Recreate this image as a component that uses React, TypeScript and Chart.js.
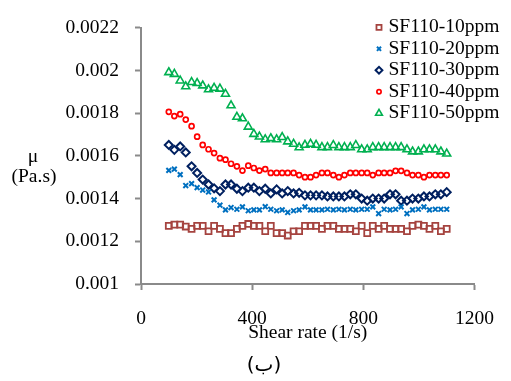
import React, { useEffect, useRef } from 'react';
import { Chart, registerables } from 'chart.js';
import { drawPoint } from 'chart.js/helpers';

Chart.register(...registerables);

// Shear rate (1/s) of each measurement
const shearRate = [
  100, 120, 141, 161, 182, 202, 222, 243, 263, 284,
  304, 324, 345, 365, 386, 406, 426, 447, 467, 488,
  508, 528, 549, 569, 590, 610, 630, 651, 671, 692,
  712, 732, 753, 773, 794, 814, 834, 855, 875, 896,
  916, 936, 957, 977, 998, 1018, 1038, 1059, 1079, 1100,
];

// Viscosity μ (Pa.s) for each SF110 concentration
const sf10 = [
  0.001272, 0.001278, 0.001278, 0.001269, 0.001258, 0.001272, 0.001272, 0.001247, 0.001272, 0.001258,
  0.001238, 0.001238, 0.001258, 0.001272, 0.001281, 0.001272, 0.001272, 0.001247, 0.001272, 0.001238,
  0.001238, 0.001227, 0.001247, 0.001247, 0.001272, 0.001272, 0.001272, 0.001258, 0.001272, 0.001272,
  0.001258, 0.001258, 0.001258, 0.001247, 0.001272, 0.001238, 0.001272, 0.001258, 0.001272, 0.001258,
  0.001258, 0.001258, 0.001247, 0.001272, 0.001278, 0.001272, 0.001258, 0.001272, 0.001247, 0.001258,
];
const sf20 = [
  0.001532, 0.001538, 0.001512, 0.001461, 0.00147, 0.001451, 0.00144, 0.001431, 0.001394, 0.001369,
  0.001347, 0.001358, 0.00135, 0.001361, 0.001343, 0.001347, 0.001347, 0.001362, 0.00135, 0.001343,
  0.001347, 0.001335, 0.001343, 0.001347, 0.001361, 0.001347, 0.001347, 0.001347, 0.00135, 0.001347,
  0.00135, 0.001347, 0.00135, 0.001347, 0.00135, 0.00135, 0.001361, 0.00133, 0.00135, 0.001347,
  0.00135, 0.001361, 0.00133, 0.001347, 0.00135, 0.001361, 0.001347, 0.00135, 0.00135, 0.00135,
];
const sf30 = [
  0.001651, 0.001628, 0.001644, 0.001616, 0.001551, 0.00152, 0.001489, 0.001466, 0.001448, 0.001435,
  0.001466, 0.001466, 0.001446, 0.001435, 0.001451, 0.001451, 0.001435, 0.001446, 0.001424, 0.001443,
  0.001424, 0.001435, 0.001424, 0.001427, 0.001415, 0.001415, 0.001415, 0.001415, 0.00141, 0.00141,
  0.00141, 0.00141, 0.00142, 0.00142, 0.0014, 0.00139, 0.0014, 0.0014, 0.0014, 0.00142,
  0.00142, 0.00139, 0.00139, 0.0014, 0.0014, 0.00141, 0.00141, 0.00142, 0.00142, 0.00143,
];
const sf40 = [
  0.001806, 0.001786, 0.001795, 0.00177, 0.001739, 0.00169, 0.001651, 0.001631, 0.001613, 0.001589,
  0.001582, 0.001563, 0.001551, 0.001531, 0.001554, 0.001543, 0.001531, 0.001538, 0.00152, 0.00152,
  0.00152, 0.00152, 0.00152, 0.00151, 0.0015, 0.0015, 0.00151, 0.00152, 0.00152, 0.00151,
  0.0015, 0.00151, 0.00152, 0.00152, 0.00152, 0.00152, 0.00151, 0.00152, 0.00152, 0.00152,
  0.00153, 0.00153, 0.00152, 0.00151, 0.00151, 0.0015, 0.00151, 0.00151, 0.00151, 0.00151,
];
const sf50 = [
  0.001991, 0.001983, 0.001952, 0.001925, 0.001945, 0.00194, 0.001929, 0.001911, 0.001918, 0.001914,
  0.00189, 0.001836, 0.001782, 0.001775, 0.001736, 0.001702, 0.00169, 0.001677, 0.001682, 0.001677,
  0.001687, 0.001667, 0.001656, 0.001639, 0.001651, 0.001656, 0.001651, 0.00164, 0.00164, 0.00165,
  0.00164, 0.00164, 0.00164, 0.00165, 0.00163, 0.00163, 0.00164, 0.00164, 0.00164, 0.00164,
  0.00164, 0.00164, 0.00163, 0.00162, 0.00162, 0.00163, 0.00163, 0.00163, 0.00162, 0.00161,
];

const seriesLabels = ['SF110-10ppm', 'SF110-20ppm', 'SF110-30ppm', 'SF110-40ppm', 'SF110-50ppm'];
const xTickLabels = ['0', '400', '800', '1200'];
const yTickLabels = ['0.001', '0.0012', '0.0014', '0.0016', '0.0018', '0.002', '0.0022'];

const SERIF = '"Liberation Serif", "Times New Roman", serif';
const FONT_SIZE = 19.5;
const AXIS_GRAY = '#8a8a8a';

type Marker = { style: string; color: string; radius: number; width: number };

const markers: Marker[] = [
  { style: 'rect', color: '#a5433f', radius: 4.2, width: 1.8 },
  { style: 'crossRot', color: '#0070c0', radius: 3.4, width: 2 },
  { style: 'rectRot', color: '#002060', radius: 4, width: 2 },
  { style: 'circle', color: '#ff0000', radius: 2.5, width: 1.7 },
  { style: 'triangle', color: '#00b050', radius: 4.6, width: 1.6 },
];

const seriesValues = [sf10, sf20, sf30, sf40, sf50];

// Legend, axis titles and caption drawn on top of the plot
const annotations = {
  id: 'annotations',
  afterDraw(chart: any) {
    const { ctx, chartArea } = chart;
    ctx.save();
    ctx.fillStyle = '#000';
    ctx.font = `${FONT_SIZE}px ${SERIF}`;
    ctx.textBaseline = 'middle';

    // legend
    seriesLabels.forEach((label, i) => {
      const y = 27.3 + i * 21.5;
      const m = markers[i];
      ctx.save();
      ctx.strokeStyle = m.color;
      ctx.fillStyle = 'rgba(0,0,0,0)';
      ctx.lineWidth = m.width;
      drawPoint(ctx, { pointStyle: m.style, radius: m.radius * 0.85, borderWidth: m.width, rotation: 0 } as any, 379, y);
      ctx.restore();
      ctx.textAlign = 'left';
      ctx.fillText(label, 388.5, y);
    });

    // x-axis title
    ctx.textAlign = 'center';
    ctx.fillText('Shear rate (1/s)', (chartArea.left + chartArea.right) / 2, 333);

    // y-axis title
    ctx.fillText('μ', 33, 157);
    ctx.fillText('(Pa.s)', 34, 177);

    // caption
    ctx.font = '20px "DejaVu Sans", sans-serif';
    ctx.fillText('(ب)', 264, 366);
    ctx.restore();
  },
};

export default function App() {
  const canvasRef = useRef<HTMLCanvasElement | null>(null);

  useEffect(() => {
    const canvas = canvasRef.current;
    if (!canvas) return;
    const chart = new Chart(canvas, {
      type: 'scatter',
      data: {
        datasets: seriesValues.map((values, i) => ({
          label: seriesLabels[i],
          data: shearRate.map((x, j) => ({ x, y: values[j] })),
          showLine: false,
          pointStyle: markers[i].style as any,
          pointRadius: markers[i].radius,
          pointBorderWidth: markers[i].width,
          pointBorderColor: markers[i].color,
          pointBackgroundColor: 'rgba(0,0,0,0)',
        })),
      },
      options: {
        responsive: false,
        animation: false,
        events: [],
        layout: { padding: { left: 0, top: 25, right: 21, bottom: 0 } },
        plugins: {
          legend: { display: false },
          tooltip: { enabled: false },
        },
        scales: {
          x: {
            type: 'linear',
            min: 0,
            max: 1200,
            ticks: {
              stepSize: 400,
              color: '#000',
              padding: 17,
              maxRotation: 0,
              font: { family: SERIF, size: FONT_SIZE },
              callback: (_v: any, i: number) => xTickLabels[i],
            },
            grid: {
              drawOnChartArea: false,
              drawTicks: true,
              tickLength: 6,
              tickColor: AXIS_GRAY,
              tickWidth: 2,
            },
            border: { display: true, color: AXIS_GRAY, width: 2 },
            afterFit: (scale: any) => {
              scale.height = 97;
            },
          },
          y: {
            type: 'linear',
            min: 0.001,
            max: 0.0022,
            ticks: {
              stepSize: 0.0002,
              color: '#000',
              padding: 16,
              font: { family: SERIF, size: FONT_SIZE },
              callback: (_v: any, i: number) => yTickLabels[i],
            },
            grid: {
              drawOnChartArea: false,
              drawTicks: true,
              tickLength: 6,
              tickColor: AXIS_GRAY,
              tickWidth: 2,
            },
            border: { display: true, color: AXIS_GRAY, width: 2 },
            afterFit: (scale: any) => {
              scale.width = 141;
            },
          },
        },
      },
      plugins: [annotations],
    });
    return () => chart.destroy();
  }, []);

  return (
    <div style={{ position: 'absolute', left: 0, top: 0, width: 511, height: 381, background: '#fff' }}>
      <canvas ref={canvasRef} width={511} height={381} />
    </div>
  );
}
